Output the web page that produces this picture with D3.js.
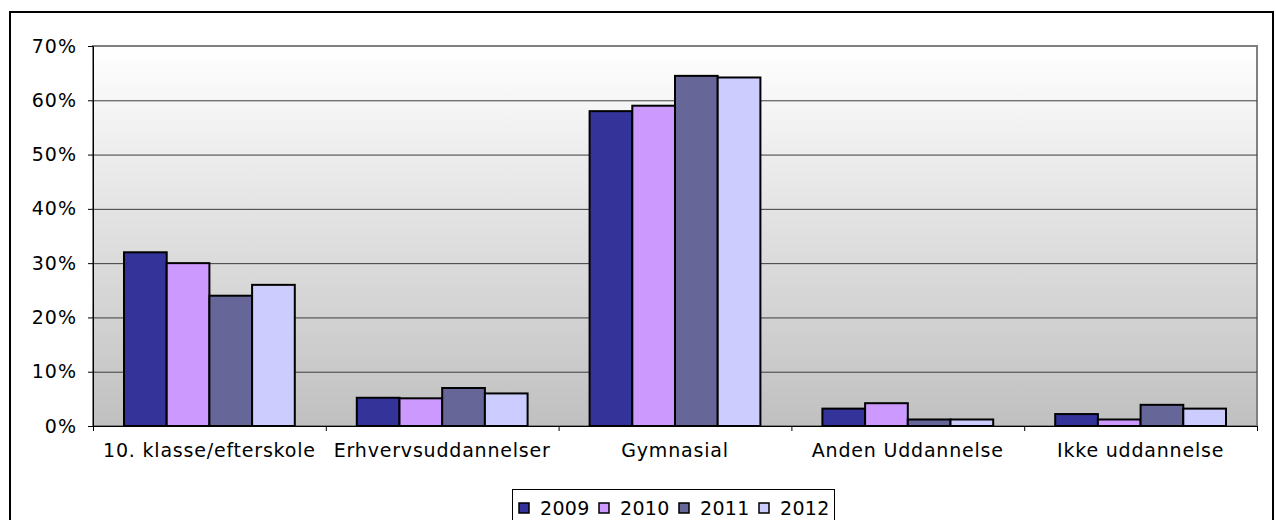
<!DOCTYPE html>
<html>
<head>
<meta charset="utf-8">
<script src="https://cdn.jsdelivr.net/npm/d3@7"></script>
<style>
  body { margin: 0; background: #fff; }
  text { font-family: "DejaVu Sans", Verdana, sans-serif; fill: #000; }
</style>
</head>
<body>
<div class="chart"></div>
<script>
var categories = ["10. klasse/efterskole", "Erhvervsuddannelser", "Gymnasial", "Anden Uddannelse", "Ikke uddannelse"];
var years = ["2009", "2010", "2011", "2012"];
var v2009 = [32, 5.2, 58, 3.2, 2.2];
var v2010 = [30, 5.1, 59, 4.2, 1.2];
var v2011 = [24, 7, 64.5, 1.2, 3.9];
var v2012 = [26, 6, 64.2, 1.2, 3.2];
var yTicks = [0, 10, 20, 30, 40, 50, 60, 70];
var colors = ["#333399", "#cc99ff", "#666699", "#ccccff"];

var series = [v2009, v2010, v2011, v2012];

var width = 1276, height = 520;
var margin = {left: 93, right: 19, top: 46, bottom: 94};

var svg = d3.select(".chart")
    .append("svg")
    .attr("width", width)
    .attr("height", height);

// outer chart border
svg.append("rect")
    .attr("x", 10).attr("y", 12)
    .attr("width", 1263).attr("height", 520)
    .attr("fill", "none")
    .attr("stroke", "#000")
    .attr("stroke-width", 2);

var x = d3.scaleBand()
    .domain(categories)
    .range([margin.left, width - margin.right])
    .paddingInner(0).paddingOuter(0);

var x1 = d3.scaleBand()
    .domain(years)
    .range([31, x.bandwidth() - 31]);

var y = d3.scaleLinear()
    .domain([0, 70])
    .range([height - margin.bottom, margin.top]);

// plot background gradient
var defs = svg.append("defs");
var grad = defs.append("linearGradient")
    .attr("id", "bg").attr("x1", 0).attr("y1", 0).attr("x2", 0).attr("y2", 1);
grad.append("stop").attr("offset", "0%").attr("stop-color", "#ffffff");
grad.append("stop").attr("offset", "100%").attr("stop-color", "#c0c0c0");

svg.append("rect")
    .attr("x", margin.left).attr("y", margin.top)
    .attr("width", width - margin.right - margin.left)
    .attr("height", y(0) - margin.top)
    .attr("fill", "url(#bg)")
    .attr("stroke", "#808080")
    .attr("stroke-width", 2);

// gridlines
svg.append("g")
    .selectAll("line")
    .data(yTicks.filter(function(d){ return d > 0 && d < 70; }))
    .enter().append("line")
    .attr("x1", margin.left).attr("x2", width - margin.right)
    .attr("y1", function(d){ return y(d) + 0.5; })
    .attr("y2", function(d){ return y(d) + 0.5; })
    .attr("stroke", "#3c3c3c")
    .attr("stroke-width", 1);

// bars
var groups = svg.append("g")
    .selectAll("g")
    .data(categories)
    .enter().append("g")
    .attr("transform", function(d){ return "translate(" + x(d) + ",0)"; });

groups.selectAll("rect")
    .data(function(d, i){ return years.map(function(yr, j){ return {year: yr, value: series[j][i], j: j}; }); })
    .enter().append("rect")
    .attr("x", function(d){ return x1(d.year); })
    .attr("y", function(d){ return y(d.value); })
    .attr("width", x1.bandwidth())
    .attr("height", function(d){ return y(0) - y(d.value); })
    .attr("fill", function(d){ return colors[d.j]; })
    .attr("stroke", "#000")
    .attr("stroke-width", 2);

// y axis
var yAxis = svg.append("g")
    .attr("transform", "translate(" + margin.left + ",0)")
    .call(d3.axisLeft(y).tickValues(yTicks).tickFormat(function(d){ return d + "%"; }).tickSize(5).tickPadding(11));
yAxis.select(".domain").attr("stroke", "#000").attr("stroke-width", 1);
yAxis.selectAll(".tick line").attr("stroke", "#000");
yAxis.selectAll("text").style("font-size", "19px").style("letter-spacing", "1px").attr("fill", "#000");

// x axis
var xAxis = svg.append("g")
    .attr("transform", "translate(0," + y(0) + ")")
    .call(d3.axisBottom(x).tickSize(0).tickPadding(18));
xAxis.select(".domain").attr("stroke", "#000").attr("stroke-width", 1);
xAxis.selectAll("text").style("font-size", "19px").style("letter-spacing", "0.8px").attr("fill", "#000");

// category separator ticks
svg.append("g")
    .selectAll("line")
    .data(categories.concat(["end"]))
    .enter().append("line")
    .attr("x1", function(d, i){ return margin.left + i * x.bandwidth() + 0.5; })
    .attr("x2", function(d, i){ return margin.left + i * x.bandwidth() + 0.5; })
    .attr("y1", y(0)).attr("y2", y(0) + 5)
    .attr("stroke", "#000");

// legend
var legend = svg.append("g").attr("transform", "translate(512,489)");
legend.append("rect")
    .attr("x", 0.5).attr("y", 0.5)
    .attr("width", 322).attr("height", 40)
    .attr("fill", "#fff")
    .attr("stroke", "#000");

var item = legend.selectAll(".item")
    .data(years)
    .enter().append("g")
    .attr("class", "item")
    .attr("transform", function(d, i){ return "translate(" + (7 + i * 80) + ",0)"; });

item.append("rect")
    .attr("x", 0).attr("y", 14)
    .attr("width", 10).attr("height", 10)
    .attr("fill", function(d, i){ return colors[i]; })
    .attr("stroke", "#000")
    .attr("stroke-width", 1.5);

item.append("text")
    .attr("x", 21).attr("y", 26)
    .style("font-size", "19px")
    .style("letter-spacing", "0.3px")
    .text(function(d){ return d; });
</script>
</body>
</html>
